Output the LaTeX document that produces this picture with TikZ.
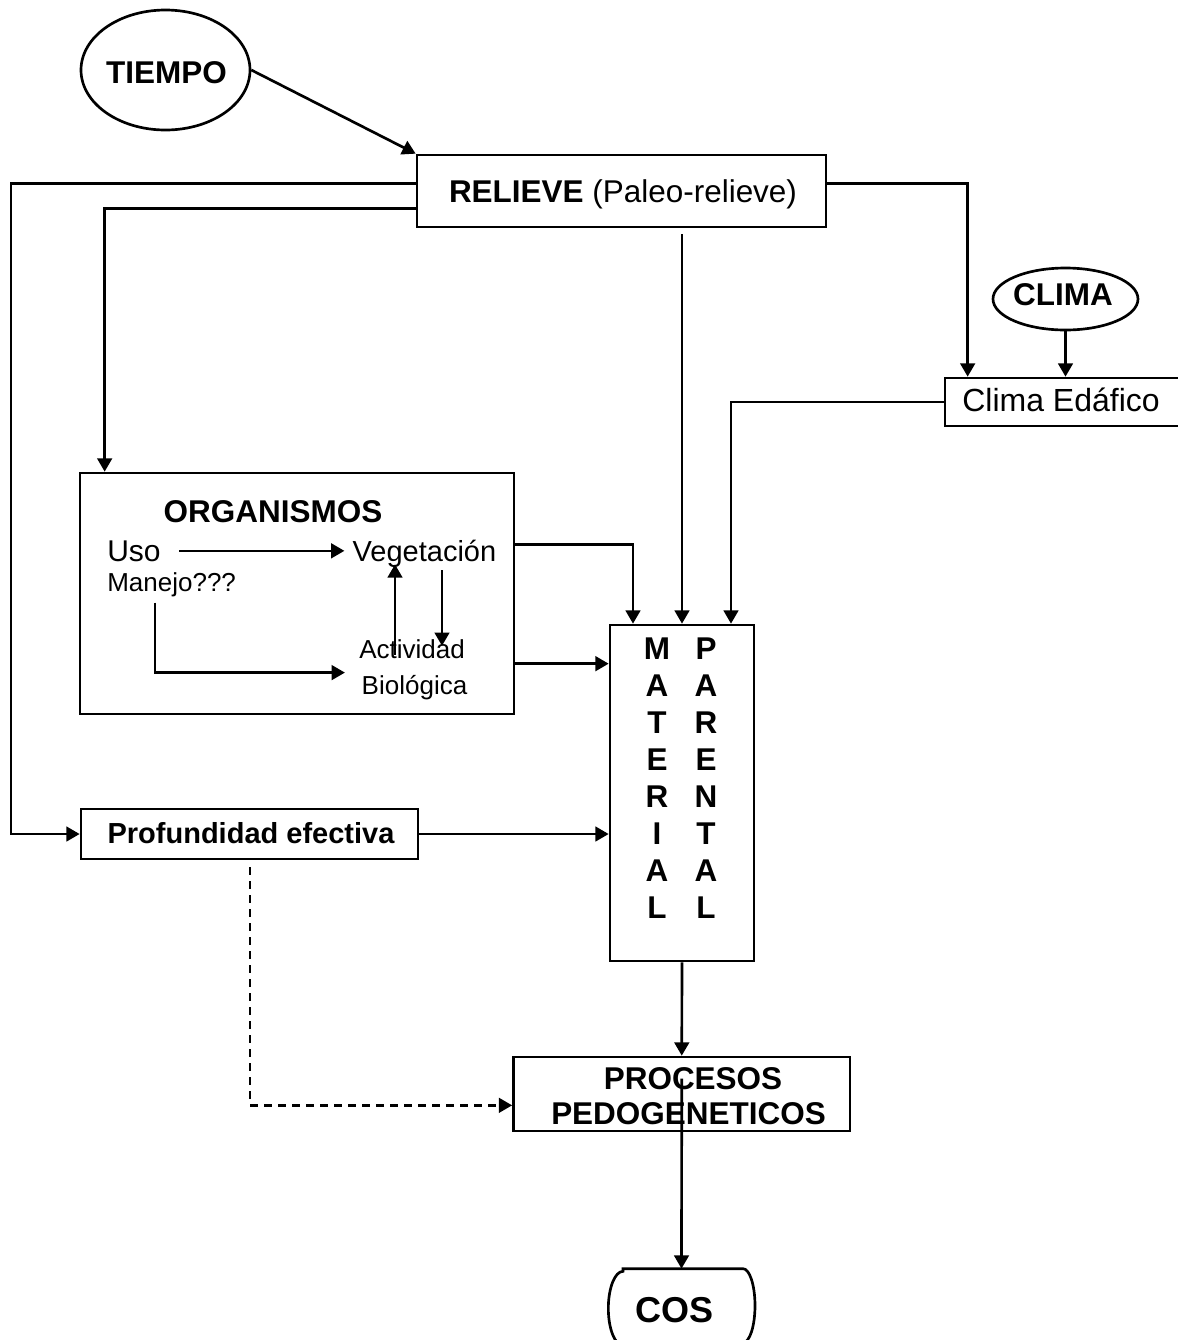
\documentclass[tikz,border=0pt]{standalone}
\usepackage{fontspec}
\setmainfont{Liberation Sans}
\usetikzlibrary{arrows.meta,shapes.geometric,calc}
\begin{document}
\begin{tikzpicture}[x=0.75pt,y=-0.75pt,
  line width=2pt,
  arr/.style={-{Triangle[length=10pt,width=11pt]}},
  dashline/.style={dash pattern=on 6pt off 4.5pt},
  box/.style={draw,rectangle,inner sep=0pt},
  oval/.style={draw,ellipse,inner sep=0pt},
  txt/.style={inner sep=0pt,anchor=base},
  txtw/.style={inner sep=0pt,anchor=base west},
  bigb/.style={font=\fontsize{23.6pt}{28pt}\selectfont\bfseries},
  big/.style={font=\fontsize{23.6pt}{28pt}\selectfont},
  edf/.style={font=\fontsize{24pt}{28pt}\selectfont},
  usof/.style={font=\fontsize{22.5pt}{27pt}\selectfont},
  vegf/.style={font=\fontsize{21.75pt}{26pt}\selectfont},
  smallf/.style={font=\fontsize{19.5pt}{23pt}\selectfont},
  profb/.style={font=\fontsize{21.75pt}{26pt}\selectfont\bfseries},
  cosb/.style={font=\fontsize{27pt}{32pt}\selectfont\bfseries}]
\useasboundingbox (0,0) rectangle (1178,1340);

% shapes
\node[oval,minimum width=126.75pt,minimum height=90pt] (tiempo) at (165.5,70) {};
\node[box,minimum width=306.75pt,minimum height=54pt] (relieve) at (621.5,191) {};
\node[oval,minimum width=108.75pt,minimum height=46.5pt] (clima) at (1065.5,299) {};
\node[box,minimum width=183.75pt,minimum height=36pt] (edafico) at (1067.5,402) {};
\node[box,minimum width=325.5pt,minimum height=180.75pt] (org) at (297,593.5) {};
\node[box,minimum width=108pt,minimum height=252pt] (material) at (682,793) {};
\node[box,minimum width=252.75pt,minimum height=37.5pt] (prof) at (249.5,834) {};
\node[box,minimum width=252.4pt,minimum height=55.5pt] (procesos) at (681.75,1094) {};
\node[inner sep=0pt,minimum width=110.25pt,minimum height=55.5pt] (cos) at (681.5,1307) {};
\draw ($(cos.north)+(-58.5,0)$) -- ($(cos.north)+(61.5,0)$)
  arc[start angle=90,end angle=-90,x radius=9pt,y radius=27.75pt]
  -- ($(cos.south)+(-58.5,0)$)
  arc[start angle=270,end angle=90,x radius=11pt,y radius=27.75pt] -- cycle;

% texts
\node[txt,bigb] (tiempoT) at (166.5,83.3) {TIEMPO};
\node[txt,big] (relieveT) at (623,202) {\textbf{RELIEVE} (Paleo-relieve)};
\node[txt,bigb] (climaT) at (1063,305) {CLIMA};
\node[txt,edf] (edafT) at (1061,411.7) {Clima Edáfico};
\node[txt,bigb] (orgT) at (273,522) {ORGANISMOS};
\node[txtw,usof] (uso) at (106,561) {Uso};
\node[txt,vegf] (veg) at (424.5,561) {Vegetación};
\node[txtw,smallf] (man) at (106,591) {Manejo???};
\node[txt,smallf] (act) at (412,658) {Actividad};
\node[txt,smallf] (bio) at (414.5,694) {Biológica};
\foreach \a/\b [count=\i from 0] in {M/P,A/A,T/R,E/E,R/N,I/T,A/A,L/L}{
  \node[txt,bigb] (ml\i) at (657,659+37*\i) {\a};
  \node[txt,bigb] (mr\i) at (706,659+37*\i) {\b};
}
\node[txt,profb] (profT) at (251,843) {Profundidad efectiva};
\node[txt,bigb] (proc1) at (693,1089) {PROCESOS};
\node[txt,bigb] (proc2) at (688.5,1124) {PEDOGENETICOS};
\node[txt,cosb] (cosT) at (675,1322) {COS};

% connectors
\draw[arr] (tiempo.east) -- (relieve.north west);
\coordinate (lftc) at (11,834);
\draw[arr] ($(relieve.north west)+(0,30)$) -| (lftc) -- (prof.west);
\draw[arr] ($(relieve.north west)+(0,55)$) -| ($(org.north west)+(26,0)$);
\draw[arr] ($(relieve.south -| material.north)+(0,6)$) -- (material.north);
\draw[arr] ($(relieve.north east)+(0,30)$) -| ($(edafico.north west)+(24,0)$);
\draw[arr] (clima.south) -- (clima.south |- edafico.north);
\draw[arr] (edafico.west) -| ($(material.north)+(49,0)$);
\draw[arr] ($(org.north east)+(0,73)$) -| ($(material.north)+(-49,0)$);
\draw[arr] ($(org.north east)+(0,192)$) -- ($(material.north west)+(0,40)$);
\draw[arr] (prof.east) -- (prof.east -| material.west);
\draw[arr] (material.south) -- (procesos.north);
\draw[arr,dashline] ($(prof.south)+(0.5,7)$) |- ($(procesos.south west)+(0,-27)$);
\draw[arr] ($(procesos.north)+(0,23)$) -- (cos.north);

% inside ORGANISMOS
\draw[arr,shorten <=12.75pt,shorten >=5.25pt] (uso.east) -- (uso.east -| veg.west);
\draw[arr] ($(act.north)+(-17,17)$) -- ($(veg.south)+(-29.5,-4)$);
\draw[arr] ($(veg.south)+(17.5,2)$) -- ($(act.north)+(30,8)$);
\draw[arr] ($(man.south west)+(49,5)$) |- ($(act.south west)+(-13,13)$);
\end{tikzpicture}
\end{document}
